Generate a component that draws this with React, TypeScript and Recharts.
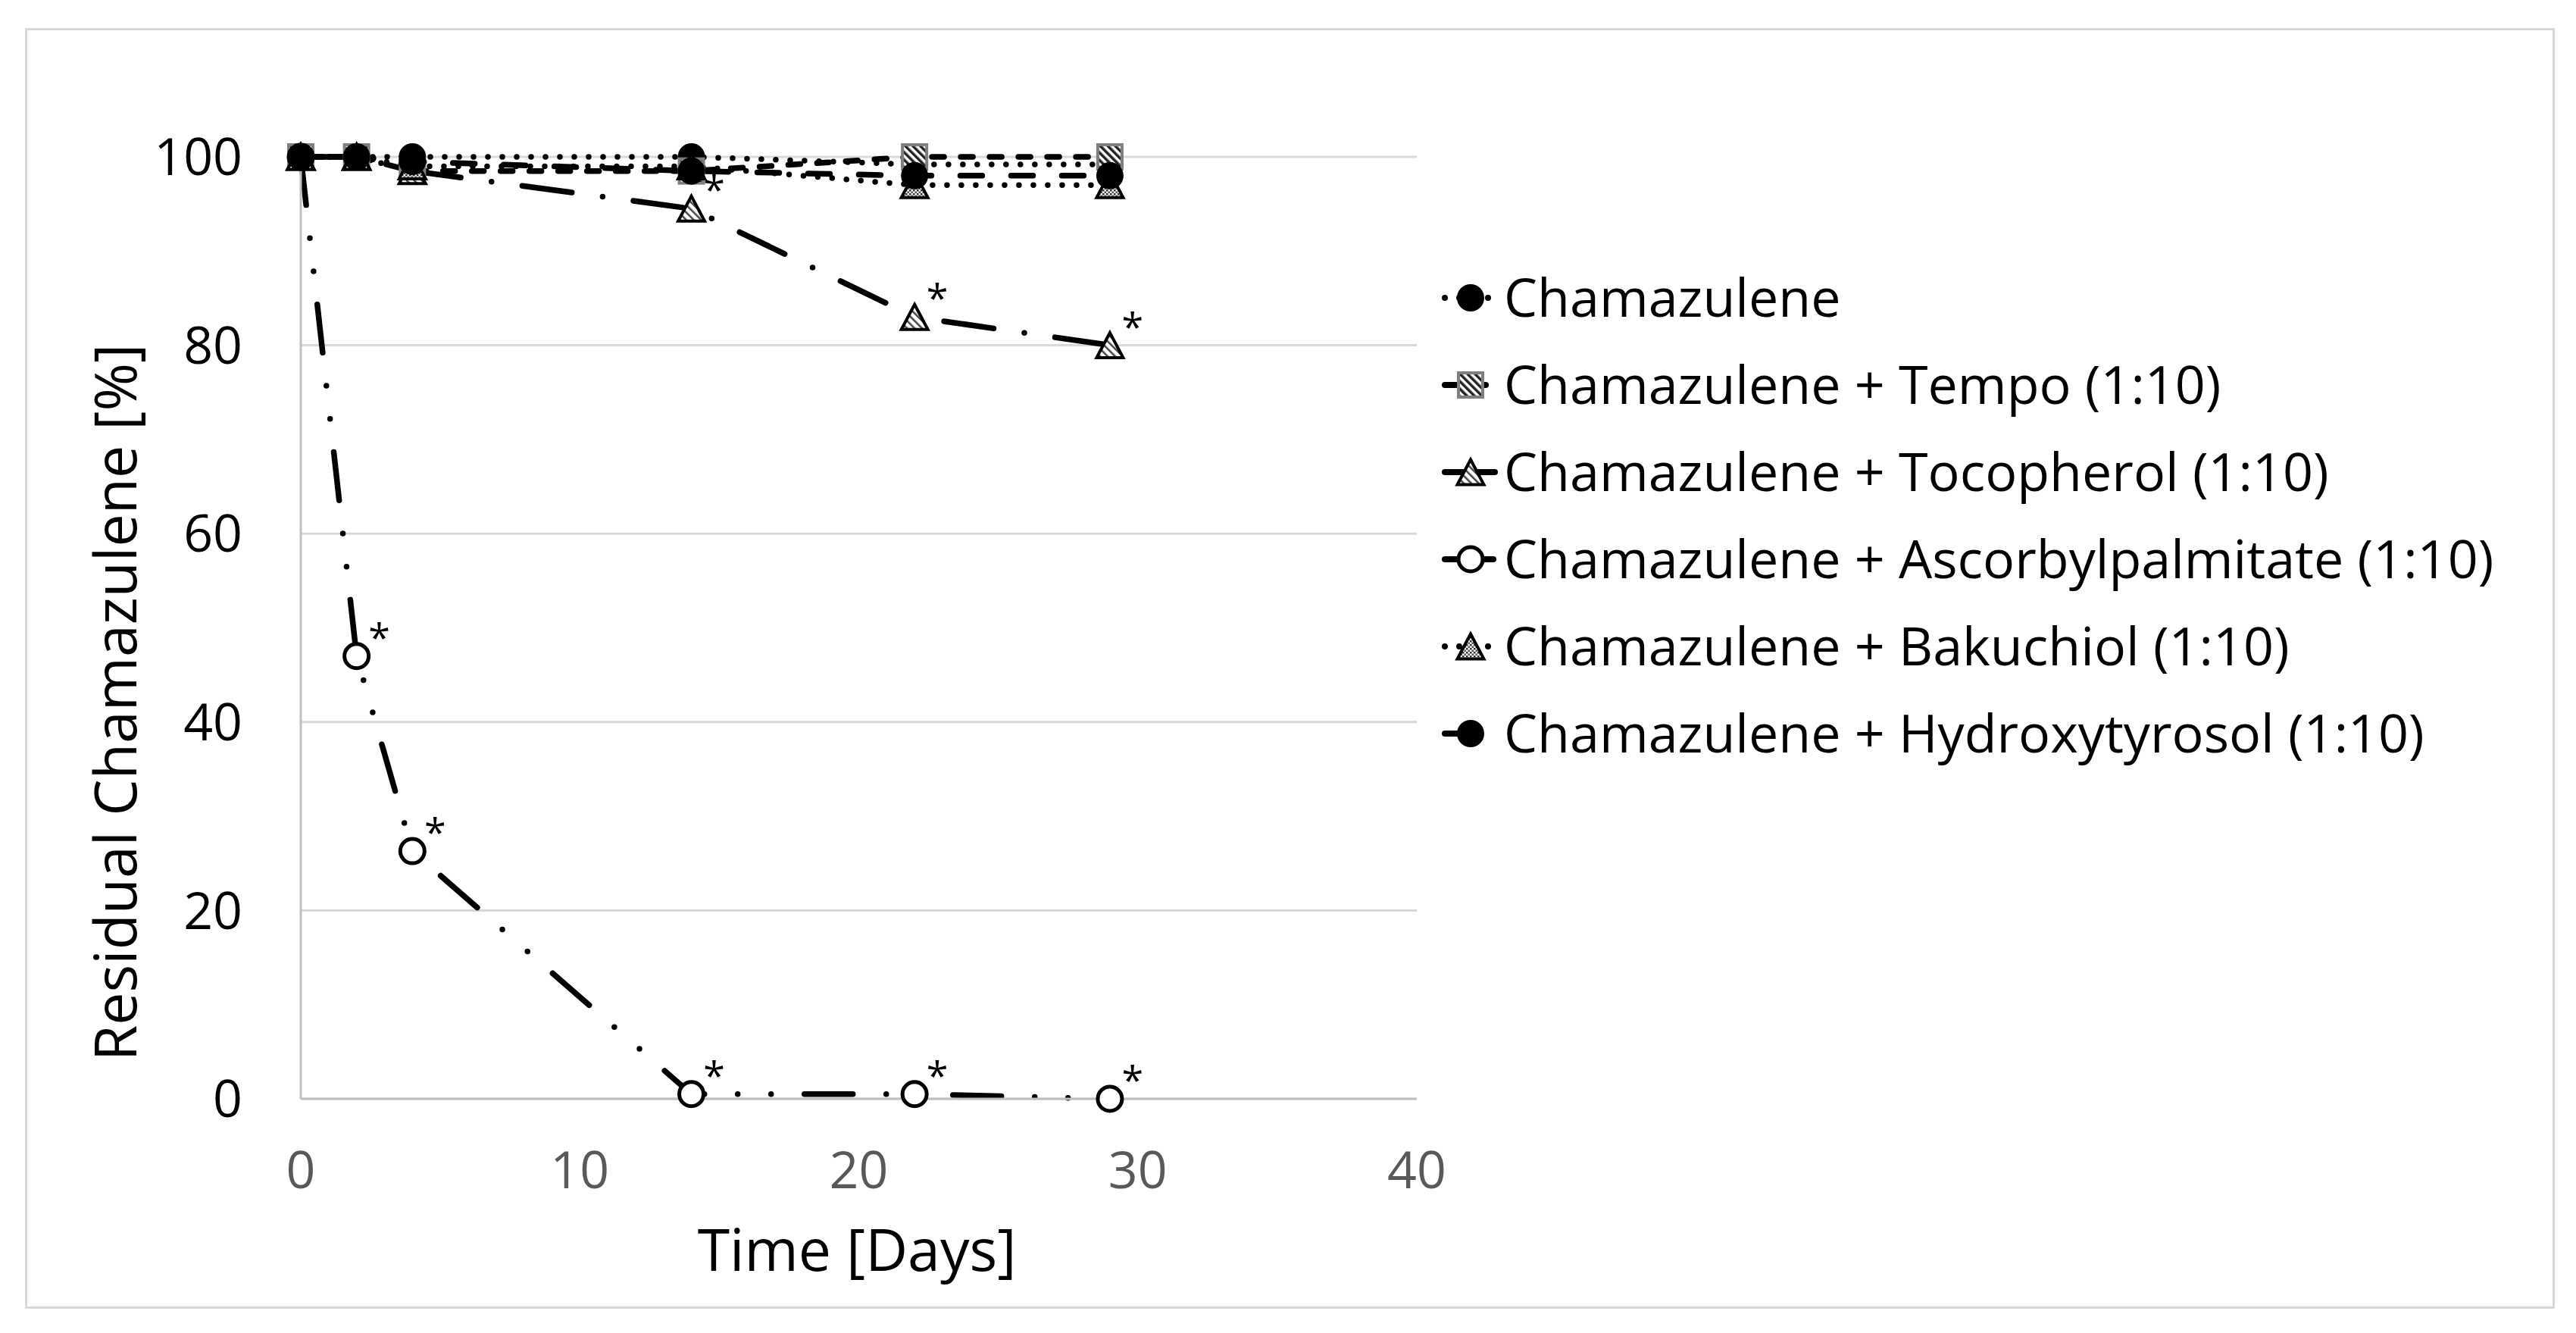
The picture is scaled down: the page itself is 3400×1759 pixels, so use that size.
import React from 'react'
import { LineChart, Line, XAxis, YAxis, CartesianGrid, Legend, Label } from 'recharts'

// sampling days
const days = [0, 2, 4, 14, 22, 29]

// residual chamazulene [%] per series
const chamazulene = [100, 100, 100, 100, 99.2, 99.2]
const tempo = [100, 100, 98.5, 98.5, 100, 100]
const tocopherol = [100, 100, 98.5, 94.5, 83, 80]
const ascorbylpalmitate = [100, 47, 26.3, 0.5, 0.5, 0]
const bakuchiol = [100, 100, 99, 99, 97, 97]
const hydroxytyrosol = [100, 100, 99.5, 98.5, 98, 98]

// significance marks (*)
const sigTocopherol = [false, false, false, true, true, true]
const sigAscorbyl = [false, true, true, true, true, true]

const xTicks = [0, 10, 20, 30, 40]
const yTicks = [0, 20, 40, 60, 80, 100]

const data = days.map((day, i) => ({
  day,
  cham: chamazulene[i],
  tempo: tempo[i],
  toco: tocopherol[i],
  asc: ascorbylpalmitate[i],
  baku: bakuchiol[i],
  hydro: hydroxytyrosol[i],
}))

type MarkerKind = 'dot' | 'square' | 'triHatch' | 'open' | 'triDots'

interface SeriesDef {
  key: string
  name: string
  dash: string
  marker: MarkerKind
  sig?: boolean[]
}

const SERIES: SeriesDef[] = [
  { key: 'cham', name: 'Chamazulene', dash: '0 19', marker: 'dot' },
  { key: 'tempo', name: 'Chamazulene + Tempo (1:10)', dash: '16 22', marker: 'square' },
  { key: 'toco', name: 'Chamazulene + Tocopherol (1:10)', dash: '66 41 0 41', marker: 'triHatch', sig: sigTocopherol },
  { key: 'asc', name: 'Chamazulene + Ascorbylpalmitate (1:10)', dash: '64 44 0 44 0 44', marker: 'open', sig: sigAscorbyl },
  { key: 'baku', name: 'Chamazulene + Bakuchiol (1:10)', dash: '0 19', marker: 'triDots' },
  { key: 'hydro', name: 'Chamazulene + Hydroxytyrosol (1:10)', dash: '29 38', marker: 'dot' },
]

function Marker({ kind, cx, cy }: { kind: MarkerKind; cx: number; cy: number }) {
  if (kind === 'dot') return <circle cx={cx} cy={cy} r={18} fill="#000" />
  if (kind === 'open') return <circle cx={cx} cy={cy} r={16} fill="#fff" stroke="#000" strokeWidth={5} />
  if (kind === 'square')
    return <rect x={cx - 16} y={cy - 16} width={32} height={32} fill="url(#hatchDark)" stroke="#7f7f7f" strokeWidth={4} />
  const h = 33
  const w = 35
  const pts = `${cx},${cy - h / 2} ${cx + w / 2},${cy + h / 2} ${cx - w / 2},${cy + h / 2}`
  return (
    <polygon
      points={pts}
      fill={kind === 'triHatch' ? 'url(#hatchLight)' : 'url(#dotsGray)'}
      stroke="#000"
      strokeWidth={4}
      strokeLinejoin="miter"
    />
  )
}

const makeDot = (s: SeriesDef) => (props: any) => {
  const { cx, cy, index } = props
  if (cx == null || cy == null) return <g key={`${s.key}-${index}`} />
  return (
    <g key={`${s.key}-${index}`}>
      <Marker kind={s.marker} cx={cx} cy={cy} />
      {s.sig && s.sig[index] && (
        <text x={cx + 30} y={cy - 6} fontSize={52} textAnchor="middle" fill="#000">
          *
        </text>
      )}
    </g>
  )
}

function LegendBox() {
  return (
    <svg width={1480} height={720}>
      {SERIES.map((s, i) => {
        const y = 53 + i * 115
        return (
          <g key={s.key}>
            <line x1={27} y1={y} x2={94} y2={y} stroke="#000" strokeWidth={8} strokeDasharray={s.dash} strokeLinecap="round" />
            <Marker kind={s.marker} cx={61} cy={y} />
            <text x={105} y={y + 25} fontSize={70} fill="#000">
              {s.name}
            </text>
          </g>
        )
      })}
    </svg>
  )
}

const YTitle = () => (
  <text x={150} y={927} transform="rotate(-90 150 927)" textAnchor="middle" dominantBaseline="central" fontSize={77} fill="#000">
    Residual Chamazulene [%]
  </text>
)

const XTitle = () => (
  <text x={1131} y={1647} textAnchor="middle" dominantBaseline="central" fontSize={77} fill="#000">
    Time [Days]
  </text>
)

export default function App() {
  return (
    <div
      style={{
        position: 'absolute',
        left: 0,
        top: 0,
        width: 3400,
        height: 1759,
        background: '#fff',
        fontFamily: '"Open Sans", sans-serif',
      }}
    >
      <div
        style={{
          position: 'absolute',
          left: 33,
          top: 37,
          width: 3339,
          height: 1690,
          border: '3px solid #d9d9d9',
          boxSizing: 'border-box',
        }}
      />
      <LineChart width={3400} height={1759} data={data} margin={{ top: 207, right: 1530, bottom: 0, left: 0 }}>
        <defs>
          <pattern id="hatchDark" width="7" height="7" patternUnits="userSpaceOnUse" patternTransform="rotate(-45)">
            <rect width="7" height="7" fill="#fff" />
            <rect width="3.5" height="7" fill="#222" />
          </pattern>
          <pattern id="hatchLight" width="7" height="7" patternUnits="userSpaceOnUse" patternTransform="rotate(-45)">
            <rect width="7" height="7" fill="#fff" />
            <rect width="2.5" height="7" fill="#444" />
          </pattern>
          <pattern id="dotsGray" width="5" height="5" patternUnits="userSpaceOnUse">
            <rect width="5" height="5" fill="#fff" />
            <rect width="2.5" height="2.5" fill="#333" />
            <rect x="2.5" y="2.5" width="2.5" height="2.5" fill="#555" />
          </pattern>
        </defs>
        <CartesianGrid vertical={false} stroke="#d9d9d9" strokeWidth={3} />
        <XAxis
          dataKey="day"
          type="number"
          domain={[0, 40]}
          ticks={xTicks}
          height={309}
          tickSize={0}
          tickMargin={70}
          axisLine={{ stroke: '#bfbfbf', strokeWidth: 3 }}
          tickLine={false}
          tick={{ fontSize: 68, fill: '#595959' }}
        >
          <Label content={XTitle} />
        </XAxis>
        <YAxis
          type="number"
          domain={[0, 100]}
          ticks={yTicks}
          width={397}
          tickSize={0}
          tickMargin={77}
          axisLine={{ stroke: '#bfbfbf', strokeWidth: 3 }}
          tickLine={false}
          tick={{ fontSize: 68, fill: '#000' }}
        >
          <Label content={YTitle} />
        </YAxis>
        <Legend
          layout="horizontal"
          verticalAlign="middle"
          align="center"
          content={() => <LegendBox />}
          wrapperStyle={{ left: 1880, top: 340, width: 1480, height: 720 }}
        />
        {SERIES.map((s) => (
          <Line
            key={s.key}
            dataKey={s.key}
            name={s.name}
            type="linear"
            stroke="#000"
            strokeWidth={7.5}
            strokeDasharray={s.dash}
            strokeLinecap="round"
            dot={makeDot(s)}
            activeDot={false}
            isAnimationActive={false}
          />
        ))}
      </LineChart>
    </div>
  )
}
